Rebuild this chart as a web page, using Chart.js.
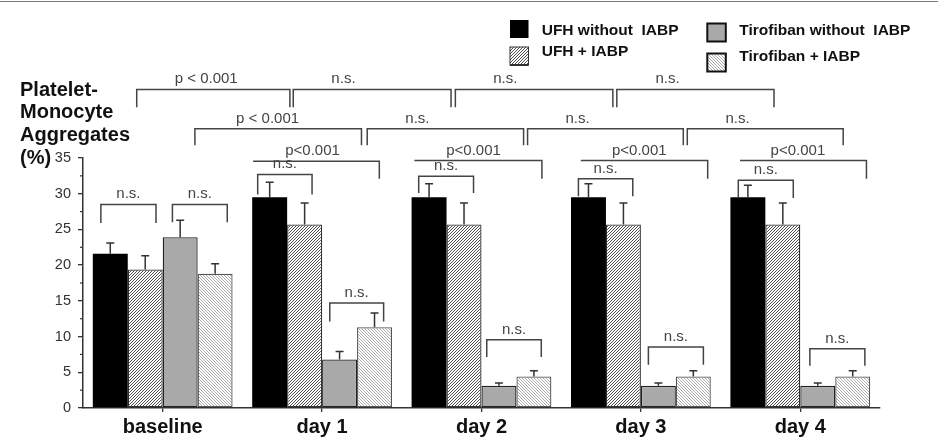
<!DOCTYPE html>
<html>
<head>
<meta charset="utf-8">
<script src="https://cdn.jsdelivr.net/npm/chart.js@4.4.1/dist/chart.umd.min.js"></script>
<style>
  html, body { margin: 0; padding: 0; background: #fff; }
  #wrap { width: 938px; height: 442px; position: relative; }
</style>
</head>
<body>
<div id="wrap"><canvas id="chart" width="938" height="442"></canvas></div>
<script>
const categories = ['baseline', 'day 1', 'day 2', 'day 3', 'day 4'];
const seriesNames = ['UFH without  IABP', 'UFH + IABP', 'Tirofiban without  IABP', 'Tirofiban + IABP'];

const ufh      = [21.6, 29.5, 29.5, 29.5, 29.5];
const ufhIabp  = [19.4, 25.7, 25.7, 25.7, 25.7];
const tiro     = [23.9, 6.8, 3.1, 3.1, 3.1];
const tiroIabp = [18.8, 11.3, 4.4, 4.4, 4.4];

const ufhSd      = [1.5, 2.1, 1.9, 1.9, 1.7];
const ufhIabpSd  = [1.9, 3.0, 3.0, 3.0, 3.0];
const tiroSd     = [2.4, 1.1, 0.4, 0.4, 0.4];
const tiroIabpSd = [1.4, 2.0, 0.8, 0.8, 0.8];

const yTitle = ['Platelet-', 'Monocyte', 'Aggregates', '(%)'];

// significance brackets: [x from, x to, y, left end y, right end y, label, label x]
// x is in category units (0 = baseline), y in %
const brackets = [
  [-0.388, -0.042, 28.5, 25.9, 25.9, 'n.s.', null],
  [0.061, 0.405, 28.5, 26.0, 26.0, 'n.s.', null],
  [0.596, 0.937, 32.7, 29.9, 29.9, 'n.s.', null],
  [0.567, 1.359, 34.55, 34.55, 32.1, 'p<0.001', 0.94],
  [1.048, 1.386, 14.7, 12.1, 12.1, 'n.s.', null],
  [1.606, 1.950, 32.45, 30.1, 30.1, 'n.s.', null],
  [1.579, 2.379, 34.65, 34.65, 32.1, 'p<0.001', 1.95],
  [2.033, 2.375, 9.57, 7.15, 7.15, 'n.s.', null],
  [2.608, 2.949, 32.1, 29.65, 29.65, 'n.s.', null],
  [2.623, 3.419, 34.65, 34.65, 32.1, 'p<0.001', 2.99],
  [3.047, 3.392, 8.55, 6.07, 6.07, 'n.s.', null],
  [3.611, 3.956, 31.9, 29.4, 29.4, 'n.s.', null],
  [3.622, 4.415, 34.65, 34.65, 32.1, 'p<0.001', 3.985],
  [4.060, 4.405, 8.3, 5.9, 5.9, 'n.s.', null],
  // first row above the plot
  [-0.163, 0.798, 44.6, 42.1, 42.1, 'p < 0.001', 0.273],
  [0.819, 1.809, 44.6, 42.1, 42.1, 'n.s.', 1.134],
  [1.836, 2.824, 44.6, 42.1, 42.1, 'n.s.', 2.149],
  [2.849, 3.835, 44.6, 42.1, 42.1, 'n.s.', 3.167],
  // second row
  [0.202, 1.247, 39.1, 36.8, 36.8, 'p < 0.001', 0.658],
  [1.283, 2.264, 39.1, 36.8, 36.8, 'n.s.', 1.598],
  [2.289, 3.266, 39.1, 36.8, 36.8, 'n.s.', 2.603],
  [3.291, 4.269, 39.1, 36.8, 36.8, 'n.s.', 3.606],
];

const FONT = '"Liberation Sans", Arial, sans-serif';
Chart.defaults.font.family = FONT;

function hatch(color, dir) {
  const c = document.createElement('canvas');
  const s = 3;
  c.width = c.height = s;
  const g = c.getContext('2d');
  g.fillStyle = '#fff';
  g.fillRect(0, 0, s, s);
  g.strokeStyle = color;
  g.lineWidth = 0.9;
  g.beginPath();
  if (dir > 0) {
    g.moveTo(0, s); g.lineTo(s, 0);
    g.moveTo(-1, 1); g.lineTo(1, -1);
    g.moveTo(s - 1, s + 1); g.lineTo(s + 1, s - 1);
  } else {
    g.moveTo(0, 0); g.lineTo(s, s);
    g.moveTo(-1, s - 1); g.lineTo(1, s + 1);
    g.moveTo(s - 1, -1); g.lineTo(s + 1, 1);
  }
  g.stroke();
  return g.createPattern(c, 'repeat');
}

const fills = ['#000', hatch('#3a3a3a', 1), '#a9a9a9', hatch('#a0a0a0', -1)];
const borders = ['#000', '#333', '#222', '#555'];
const values = [ufh, ufhIabp, tiro, tiroIabp];
const errors = [ufhSd, ufhIabpSd, tiroSd, tiroIabpSd];

const extras = {
  id: 'extras',
  afterDatasetsDraw(chart) {
    const ctx = chart.ctx;
    const y = chart.scales.y;

    // error bars (upper only)
    ctx.save();
    ctx.strokeStyle = '#333';
    ctx.lineWidth = 1.5;
    chart.data.datasets.forEach((ds, i) => {
      const meta = chart.getDatasetMeta(i);
      meta.data.forEach((bar, j) => {
        const top = y.getPixelForValue(ds.data[j]);
        const end = y.getPixelForValue(ds.data[j] + errors[i][j]);
        ctx.beginPath();
        ctx.moveTo(bar.x, top);
        ctx.lineTo(bar.x, end);
        ctx.moveTo(bar.x - 4, end);
        ctx.lineTo(bar.x + 4, end);
        ctx.stroke();
      });
    });
    ctx.restore();
  },
  afterDraw(chart) {
    const ctx = chart.ctx;
    const x = chart.scales.x;
    const y = chart.scales.y;
    const left = chart.chartArea.left;

    ctx.save();
    // frame line on top of the figure
    ctx.strokeStyle = '#777';
    ctx.lineWidth = 1.2;
    ctx.beginPath();
    ctx.moveTo(0, 1.5);
    ctx.lineTo(chart.width, 1.5);
    ctx.stroke();

    // minor ticks on y axis
    ctx.strokeStyle = '#333';
    ctx.lineWidth = 1.2;
    for (let v = 2.5; v < 35; v += 5) {
      const py = y.getPixelForValue(v);
      ctx.beginPath();
      ctx.moveTo(left - 3, py);
      ctx.lineTo(left, py);
      ctx.stroke();
    }

    // brackets
    ctx.strokeStyle = '#444';
    ctx.lineWidth = 1.5;
    ctx.fillStyle = '#444';
    ctx.font = '15px ' + FONT;
    ctx.textAlign = 'center';
    ctx.textBaseline = 'alphabetic';
    brackets.forEach(([a, b, v, vl, vr, label, lx]) => {
      const x0 = x.getPixelForValue(a);
      const x1 = x.getPixelForValue(b);
      const py = y.getPixelForValue(v);
      ctx.beginPath();
      ctx.moveTo(x0, y.getPixelForValue(vl));
      ctx.lineTo(x0, py);
      ctx.lineTo(x1, py);
      ctx.lineTo(x1, y.getPixelForValue(vr));
      ctx.stroke();
      const tx = lx === null ? (x0 + x1) / 2 : x.getPixelForValue(lx);
      ctx.fillText(label, tx, py - 6);
    });

    // y axis title
    ctx.fillStyle = '#111';
    ctx.font = 'bold 20px ' + FONT;
    ctx.textAlign = 'left';
    ctx.textBaseline = 'middle';
    yTitle.forEach((t, i) => ctx.fillText(t, 20, 90 + i * 22.8));

    // legend
    const items = [
      [510, 20, 541.7, 30.7],
      [510, 47, 541.7, 51.7],
      [707.3, 23.5, 739.3, 30.7],
      [707.3, 53.5, 739.3, 56.7],
    ];
    ctx.font = 'bold 15.5px ' + FONT;
    items.forEach(([sx, sy, tx, ty], i) => {
      ctx.fillStyle = fills[i];
      ctx.fillRect(sx, sy, 18.5, 18);
      if (i >= 2) {
        ctx.strokeStyle = '#111';
        ctx.lineWidth = 2;
        ctx.strokeRect(sx, sy, 18.5, 18);
      } else if (i === 1) {
        ctx.strokeStyle = '#333';
        ctx.lineWidth = 1;
        ctx.strokeRect(sx, sy, 18.5, 18);
        ctx.lineWidth = 2;
        ctx.beginPath();
        ctx.moveTo(sx, sy + 18);
        ctx.lineTo(sx + 18.5, sy + 18);
        ctx.stroke();
      }
      ctx.fillStyle = '#111';
      ctx.fillText(seriesNames[i], tx, ty);
    });
    ctx.restore();
  }
};

new Chart(document.getElementById('chart').getContext('2d'), {
  type: 'bar',
  data: {
    labels: categories,
    datasets: values.map((data, i) => ({
      label: seriesNames[i],
      data,
      backgroundColor: fills[i],
      borderColor: borders[i],
      borderWidth: i === 0 ? 0 : 1.3,
      borderSkipped: false,
      categoryPercentage: 0.877,
      barPercentage: 1.0,
    })),
  },
  options: {
    responsive: false,
    animation: false,
    layout: { padding: { top: 158, right: 58, left: 0, bottom: 0 } },
    plugins: {
      legend: { display: false },
      tooltip: { enabled: false },
    },
    scales: {
      x: {
        grid: { offset: false, drawOnChartArea: false, tickLength: 4, color: '#333', lineWidth: 1.3 },
        border: { color: '#333', width: 1.5 },
        ticks: { color: '#111', font: { size: 20, weight: 'bold' }, padding: 3 },
        afterFit: s => { s.height = 34; },
      },
      y: {
        min: 0,
        max: 35,
        ticks: { stepSize: 5, color: '#333', font: { size: 14.5 }, padding: 7 },
        grid: { drawOnChartArea: false, tickLength: 5, color: '#333', lineWidth: 1.3 },
        border: { color: '#333', width: 1.5 },
        afterFit: s => { s.width = 83; },
      },
    },
  },
  plugins: [extras],
});
</script>
</body>
</html>
